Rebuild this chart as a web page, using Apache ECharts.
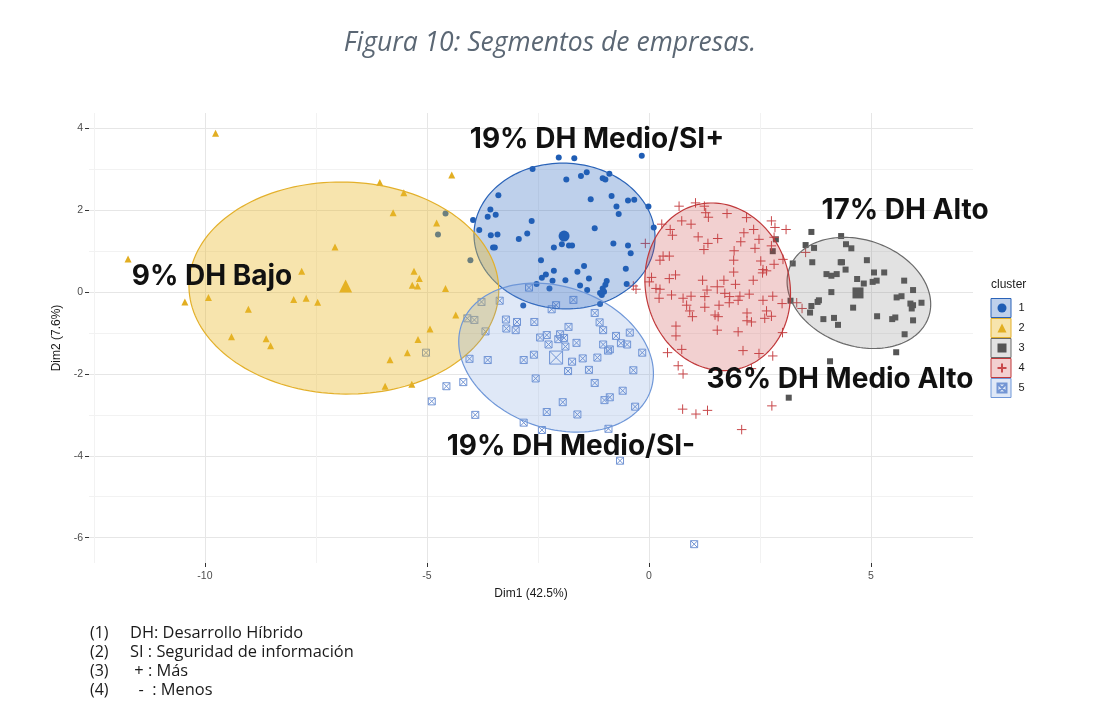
<!DOCTYPE html>
<html>
<head>
<meta charset="utf-8">
<script src="https://cdn.jsdelivr.net/npm/echarts@6/dist/echarts.min.js"></script>
<style>
html,body{margin:0;padding:0;background:#fff;}
#chart{width:1096px;height:718px;}
</style>
</head>
<body>
<div id="chart"></div>
<script>
// ---- data ----
const clusterNames = ['1', '2', '3', '4', '5'];
const xTicks = [-10, -5, 0, 5];
const xMinorTicks = [-12.5, -7.5, -2.5, 2.5];
const yTicks = [-6, -4, -2, 0, 2, 4];
const yMinorTicks = [-5, -3, -1, 1, 3];

const cluster1 = [
[-4.58,1.92],[-4.75,1.41],[-4.02,0.78],
[-2.03,3.29],[-1.68,3.27],[-0.16,3.33],[-2.62,3.01],[-1.86,2.75],[-1.53,2.84],[-1.40,2.93],[-0.89,2.89],[-1.04,2.78],[-0.98,2.75],
[-3.39,2.37],[-0.84,2.35],[-1.31,2.27],[-0.47,2.24],[-0.33,2.26],[-0.01,2.09],[-0.73,2.09],
[-3.57,2.02],[-3.63,1.84],[-3.45,1.89],[-0.68,1.91],[-3.96,1.76],[-2.64,1.74],[-3.82,1.52],[-1.22,1.56],[0.11,1.58],
[-3.56,1.39],[-3.41,1.41],[-2.74,1.43],[-2.93,1.30],
[-1.96,1.17],[-1.80,1.14],[-1.73,1.14],[-2.14,1.09],[-3.51,1.09],[-3.47,1.09],[-0.80,1.19],[-0.47,1.14],[-0.41,0.95],
[-2.43,0.78],[-0.52,0.57],[-1.46,0.64],[-2.14,0.52],[-1.61,0.50],[-2.32,0.43],[-2.41,0.35],[-1.35,0.33],[-2.17,0.28],[-1.88,0.29],
[-0.95,0.27],[-0.98,0.18],[-2.53,0.20],[-1.55,0.16],[-0.50,0.20],[-2.24,0.09],[-1.39,0.05],
[-1.04,0.09],[-1.01,0.01],[-1.06,-0.07],[-1.10,-0.02],[-2.83,-0.33],[-1.10,-0.29]
];
const cluster2 = [
[-9.76,3.88],[-4.44,2.86],[-6.06,2.68],[-5.52,2.43],[-5.76,1.94],[-4.78,1.69],[-7.07,1.10],[-11.73,0.81],[-7.82,0.51],[-5.29,0.51],[-5.17,0.33],[-5.33,0.17],[-5.21,0.15],[-4.58,0.09],
[-10.45,-0.24],[-9.92,-0.13],[-8.00,-0.18],[-7.72,-0.15],[-7.46,-0.25],[-9.02,-0.42],[-4.35,-0.56],[-4.93,-0.90],[-9.40,-1.09],[-8.62,-1.14],[-8.52,-1.31],[-5.20,-1.16],[-5.44,-1.48],[-5.83,-1.65],[-5.94,-2.30],[-5.34,-2.25]
];
const cluster3 = [
[3.66,1.47],[4.33,1.37],[3.53,1.15],[3.72,1.08],[4.44,1.17],[4.56,1.07],[2.86,1.29],[2.79,1.00],[4.91,0.78],[3.68,0.73],[4.32,0.73],[4.35,0.73],[3.24,0.70],[4.43,0.55],[4.00,0.44],[4.11,0.40],[4.23,0.44],[5.07,0.48],[5.30,0.48],[4.69,0.32],[5.75,0.28],[5.04,0.25],[5.13,0.28],[4.84,0.21],[4.11,0.00],[5.95,0.05],[5.58,-0.13],[5.69,-0.10],[3.83,-0.20],[3.80,-0.24],[3.19,-0.21],[5.89,-0.28],[5.95,-0.32],[5.92,-0.40],[6.14,-0.26],[3.66,-0.34],[4.60,-0.38],[3.63,-0.50],[5.14,-0.59],[4.17,-0.63],[3.93,-0.66],[5.48,-0.66],[5.55,-0.62],[5.95,-0.69],[4.26,-0.80],[5.76,-1.03],[5.57,-1.47],[4.08,-1.69],[3.15,-2.58]
];
const cluster4 = [
[0.68,2.10],[1.05,2.18],[1.25,2.10],[1.28,1.94],[1.34,1.83],[1.76,1.92],[2.20,1.82],[0.74,1.74],[0.95,1.66],[0.29,1.66],[2.76,1.74],[3.09,1.53],[2.84,1.58],[0.48,1.53],[0.53,1.39],[2.36,1.53],[2.14,1.45],[1.11,1.35],[1.55,1.31],[2.48,1.29],[2.82,1.34],[-0.08,1.19],[2.07,1.23],[1.33,1.19],[2.76,1.13],[2.39,1.07],[1.92,1.01],[1.24,1.04],[3.53,0.97],
[0.32,0.88],[0.46,0.88],[0.25,0.78],[1.91,0.78],[3.02,0.80],[2.52,0.76],[2.82,0.68],[2.57,0.55],[2.65,0.52],[2.56,0.47],[1.91,0.49],[0.60,0.42],[0.46,0.33],[0.06,0.36],[0.01,0.25],[1.21,0.29],[1.69,0.29],[2.35,0.29],[1.95,0.19],
[0.16,0.09],[0.25,0.07],[-0.29,0.07],[-0.35,0.15],[1.31,0.05],[0.51,-0.07],[0.77,-0.15],[0.95,-0.10],[1.26,-0.11],[1.71,-0.03],[1.82,-0.11],[2.05,-0.10],[2.26,-0.05],[2.79,-0.10],[2.57,-0.20],[1.81,-0.26],[2.01,-0.20],[0.23,-0.15],[0.85,-0.32],[1.26,-0.37],[1.58,-0.32],[3.00,-0.28],[3.33,-0.26],[3.45,-0.40],
[0.92,-0.46],[2.65,-0.46],[2.21,-0.51],[0.98,-0.60],[1.49,-0.56],[1.56,-0.60],[2.76,-0.59],[2.61,-0.64],[2.21,-0.70],[2.31,-0.73],[0.61,-0.83],[1.54,-0.93],[2.01,-0.97],[3.01,-0.99],[0.61,-1.07],[0.74,-1.40],[2.12,-1.43],[0.42,-1.48],[2.48,-1.50],[2.79,-1.56],[0.66,-1.80],[0.77,-2.00],[2.31,-1.87],
[0.76,-2.86],[1.06,-2.98],[1.32,-2.89],[2.77,-2.78],[2.09,-3.36]
];
const cluster5 = [
[-2.70,0.11],[-3.77,-0.24],[-3.36,-0.21],[-1.70,-0.19],[-2.09,-0.32],[-2.19,-0.42],[-1.22,-0.51],[-4.09,-0.64],[-3.93,-0.68],[-3.22,-0.67],[-2.97,-0.73],[-2.58,-0.73],[-1.11,-0.74],[-3.21,-0.89],[-3.00,-0.93],[-1.81,-0.85],[-1.03,-0.93],[-3.68,-0.96],[-0.43,-0.99],[-0.74,-1.07],[-2.30,-1.05],[-2.45,-1.11],[-2.00,-1.03],[-2.04,-1.15],[-1.91,-1.12],[-1.63,-1.24],[-2.26,-1.28],[-1.88,-1.33],[-1.03,-1.28],[-0.63,-1.25],[-0.49,-1.28],[-0.88,-1.40],[-0.92,-1.43],[-0.15,-1.48],[-2.59,-1.53],[-1.16,-1.60],[-1.49,-1.62],[-4.04,-1.63],[-3.63,-1.66],[-2.82,-1.66],[-1.73,-1.70],[-1.35,-1.90],[-1.82,-1.93],[-0.35,-1.91],[-2.55,-2.11],[-1.22,-2.22],[-4.56,-2.30],[-4.18,-2.20],[-0.59,-2.41],[-0.88,-2.57],[-1.00,-2.64],[-1.94,-2.69],[-0.31,-2.80],[-2.30,-2.93],[-1.61,-2.99],[-3.91,-3.00],[-2.82,-3.19],[-0.91,-3.34],[-2.41,-3.37],[-0.65,-4.12],[-5.02,-1.48],[-4.89,-2.67],[1.02,-6.16]
];
const centroids = [[-1.91,1.37],[-6.83,0.15],[4.71,-0.02],[1.54,0.13],[-2.09,-1.60]];
// ellipse per cluster: centre, semi-axes (x,y before rotation), rotation in degrees
const ellipseCenters = [[-1.90,1.37],[-6.87,0.10],[4.73,-0.02],[1.55,0.13],[-2.09,-1.60]];
const ellipseAxes = [[2.04,1.78],[3.49,2.59],[1.68,1.28],[1.625,2.06],[2.28,1.71]];
const ellipseAngles = [-4, -2, -24.7, 10, -24.5];
const clusterLabels = ['19% DH Medio/SI+', '9% DH Bajo', '17% DH Alto', '36% DH Medio Alto', '19% DH Medio/SI-'];
const footnoteNums = ['(1)', '(2)', '(3)', '(4)'];
const footnoteTexts = ['DH: Desarrollo Híbrido', 'SI : Seguridad de información', ' + : Más', '  -  : Menos'];

// ---- styles ----
const pointColors = ['#1f5db4', '#e2ae22', '#555555', '#c8484b', '#7395d4'];
const ellFills = ['rgba(40,100,190,0.30)', 'rgba(235,185,40,0.38)', 'rgba(110,110,110,0.20)', 'rgba(200,60,60,0.24)', 'rgba(110,150,220,0.22)'];
const ellStrokes = ['#2a63b8', '#e3b02b', '#6a6a6a', '#c0393b', '#6f97d8'];
const PLUS = 'path://M0,5L10,5M5,0L5,10';
const SQX = 'path://M0,0L10,0L10,10L0,10ZM0,0L10,10M10,0L0,10';
const symbols = ['circle', 'triangle', 'rect', PLUS, SQX];
const sizes = [6, 7, 6, 9.5, 7];
const centroidSizes = [11, 13, 11, 14, 13];
const clusters = [cluster1, cluster2, cluster3, cluster4, cluster5];

const pointSeries = clusters.map((pts, i) => {
  const stroked = i >= 3;
  return {
    type: 'scatter',
    name: clusterNames[i],
    symbol: symbols[i],
    symbolSize: sizes[i],
    z: 2,
    data: pts.map(p => p.slice()).concat([{ value: centroids[i], symbolSize: centroidSizes[i] }]),
    itemStyle: stroked
      ? { color: 'rgba(255,255,255,0)', borderColor: pointColors[i], borderWidth: 1, opacity: 1 }
      : { color: pointColors[i], opacity: 1 },
    emphasis: { disabled: true },
    silent: true
  };
});

const ellipseSeries = {
  type: 'custom',
  name: 'ellipses',
  coordinateSystem: 'cartesian2d',
  z: 3,
  silent: true,
  data: ellipseCenters.map((c, i) => [c[0], c[1], i]),
  encode: { x: 0, y: 1 },
  renderItem: function (params, api) {
    const i = api.value(2);
    const cx = api.value(0), cy = api.value(1);
    const a = ellipseAxes[i][0], b = ellipseAxes[i][1];
    const th = ellipseAngles[i] * Math.PI / 180;
    const pts = [];
    const N = 160;
    for (let k = 0; k < N; k++) {
      const t = 2 * Math.PI * k / N;
      const x = cx + a * Math.cos(t) * Math.cos(th) - b * Math.sin(t) * Math.sin(th);
      const y = cy + a * Math.cos(t) * Math.sin(th) + b * Math.sin(t) * Math.cos(th);
      pts.push(api.coord([x, y]));
    }
    return {
      type: 'polygon',
      shape: { points: pts },
      style: { fill: ellFills[i], stroke: ellStrokes[i], lineWidth: 1.2 }
    };
  }
};

const labelFont = { fontFamily: 'Inter, "Noto Sans", sans-serif', fontWeight: 'bold', fontSize: 28, fill: '#111' };
const labelPos = [[597, 140], [212, 277], [905, 211], [840, 380], [571, 447]];

const graphics = [
  { type: 'text', x: 550, y: 43, z: 10,
    style: { text: 'Figura 10: Segmentos de empresas.', fontFamily: '"Open Sans", sans-serif', fontStyle: 'italic', fontSize: 26.5, fill: '#5b6774', align: 'center', verticalAlign: 'middle' } },
  { type: 'text', x: 991, y: 285, z: 10,
    style: { text: 'cluster', fontFamily: '"Liberation Sans", Arial, sans-serif', fontSize: 12, fill: '#1a1a1a', align: 'left', verticalAlign: 'middle' } }
];
clusterLabels.forEach((t, i) => {
  graphics.push({ type: 'text', x: labelPos[i][0], y: labelPos[i][1], z: 10,
    style: Object.assign({ text: t, align: 'center', verticalAlign: 'middle' }, labelFont) });
});
clusterNames.forEach((n, i) => {
  graphics.push({ type: 'rect', z: 1, shape: { x: 991, y: 298.5 + 20 * i, width: 20, height: 19 },
    style: { fill: ellFills[i], stroke: ellStrokes[i], lineWidth: 1 } });
});
footnoteNums.forEach((n, i) => {
  graphics.push({ type: 'text', x: 90, y: 633 + 19 * i, z: 10,
    style: { text: n, fontFamily: '"Open Sans", sans-serif', fontSize: 16, fill: '#1a1a1a', align: 'left', verticalAlign: 'middle' } });
  graphics.push({ type: 'text', x: 130, y: 633 + 19 * i, z: 10,
    style: { text: footnoteTexts[i], fontFamily: '"Open Sans", sans-serif', fontSize: 16.4, fill: '#1a1a1a', align: 'left', verticalAlign: 'middle' } });
});

const axisLabelStyle = { color: '#4d4d4d', fontSize: 10.5, fontFamily: '"Liberation Sans", Arial, sans-serif' };

const option = {
  backgroundColor: '#ffffff',
  animation: false,
  grid: { left: 89, right: 123, top: 113, bottom: 155, containLabel: false },
  xAxis: [
    {
      type: 'value', min: -12.61, max: 7.30, position: 'bottom',
      axisLine: { show: false, onZero: false },
      axisTick: { show: true, customValues: xTicks, length: 4, lineStyle: { color: '#333', width: 1 } },
      axisLabel: Object.assign({ customValues: xTicks, margin: 8 }, axisLabelStyle),
      splitLine: { show: true, lineStyle: { color: '#e6e6e6', width: 1 } },
      name: 'Dim1 (42.5%)', nameLocation: 'middle', nameGap: 25,
      nameTextStyle: { color: '#1a1a1a', fontSize: 12, fontFamily: '"Liberation Sans", Arial, sans-serif' }
    },
    {
      type: 'value', min: -12.61, max: 7.30, position: 'bottom',
      axisLine: { show: false, onZero: false },
      axisTick: { show: false, customValues: xMinorTicks },
      axisLabel: { show: false, customValues: xMinorTicks },
      splitLine: { show: true, lineStyle: { color: '#f2f2f2', width: 1 } }
    }
  ],
  yAxis: [
    {
      type: 'value', min: -6.62, max: 4.377, position: 'left',
      axisLine: { show: false, onZero: false },
      axisTick: { show: true, customValues: yTicks, length: 4, lineStyle: { color: '#333', width: 1 } },
      axisLabel: Object.assign({ customValues: yTicks, margin: 6 }, axisLabelStyle),
      splitLine: { show: true, lineStyle: { color: '#e6e6e6', width: 1 } },
      name: 'Dim2 (7.6%)', nameLocation: 'middle', nameGap: 17, nameRotate: 90,
      nameTextStyle: { color: '#1a1a1a', fontSize: 12, fontFamily: '"Liberation Sans", Arial, sans-serif' }
    },
    {
      type: 'value', min: -6.62, max: 4.377, position: 'left',
      axisLine: { show: false, onZero: false },
      axisTick: { show: false, customValues: yMinorTicks },
      axisLabel: { show: false, customValues: yMinorTicks },
      splitLine: { show: true, lineStyle: { color: '#f2f2f2', width: 1 } }
    }
  ],
  legend: {
    data: clusterNames,
    orient: 'vertical', left: 996.5, top: 302.5, padding: 0,
    itemWidth: 9, itemHeight: 9, itemGap: 9,
    selectedMode: false,
    formatter: '{a|{name}}',
    textStyle: { color: '#1a1a1a', fontSize: 11, fontFamily: '"Liberation Sans", Arial, sans-serif',
      rich: { a: { padding: [0, 0, 0, 7], fontSize: 11, lineHeight: 11, color: '#1a1a1a' } } }
  },
  graphic: graphics,
  series: pointSeries.concat([ellipseSeries])
};

const chart = echarts.init(document.getElementById('chart'), null, { renderer: 'canvas' });
chart.setOption(option);
</script>
</body>
</html>
